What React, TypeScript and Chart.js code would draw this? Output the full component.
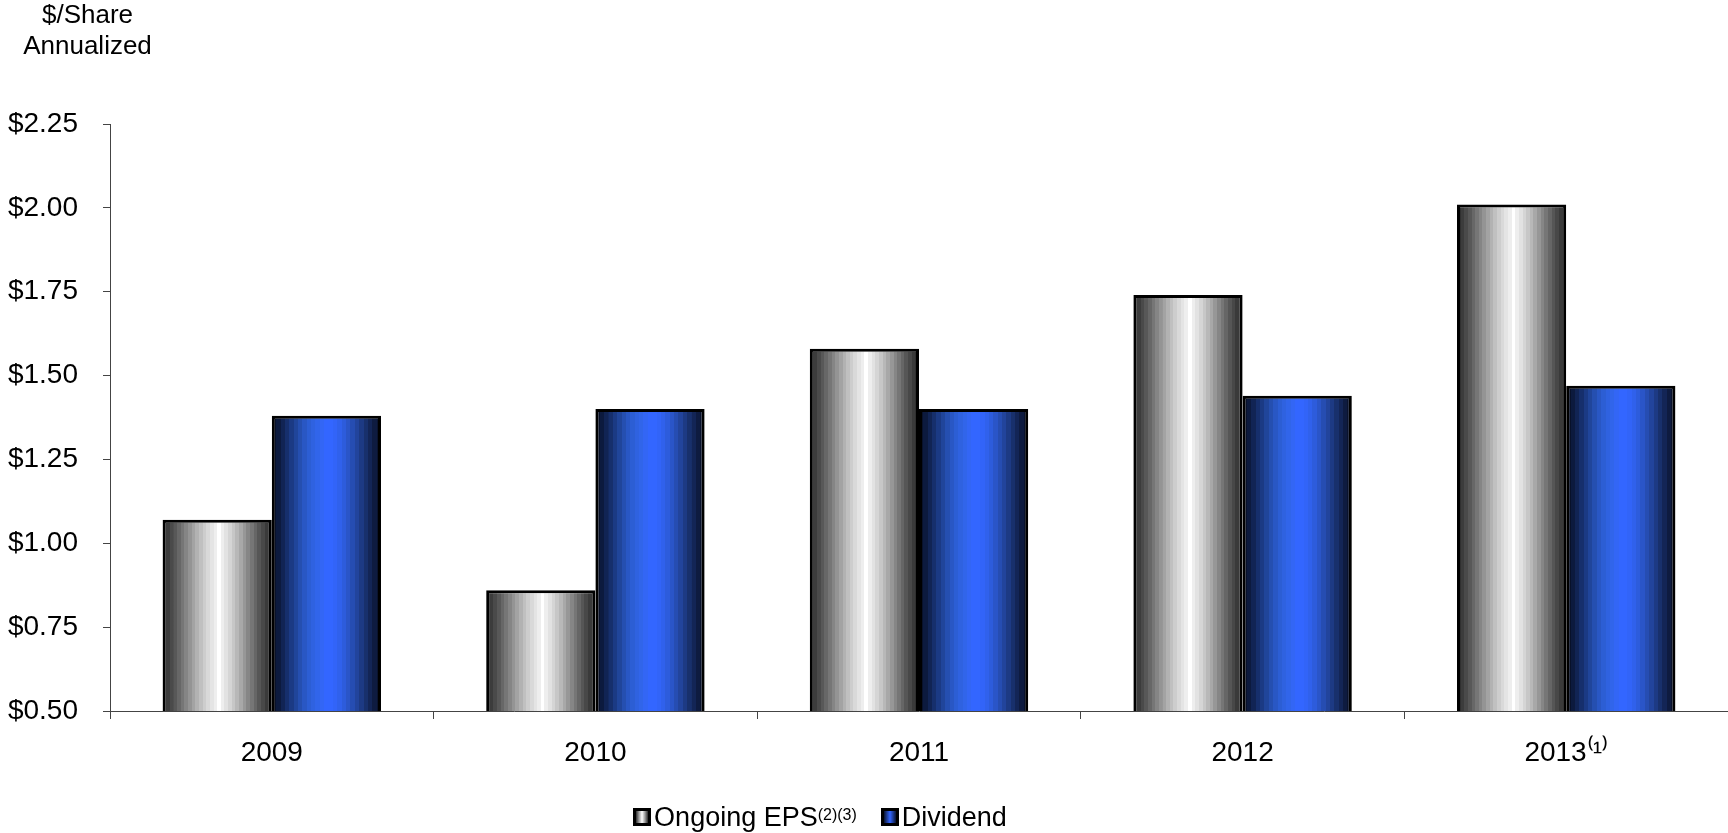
import React, { useEffect, useRef } from "react";
import { Chart, registerables } from "chart.js";

Chart.register(...registerables);

const categories = ["2009", "2010", "2011", "2012", "2013⁽¹⁾"];
const epsValues = [1.07, 0.86, 1.58, 1.74, 2.01];
const dividendValues = [1.38, 1.4, 1.4, 1.44, 1.47];
const yMin = 0.5;
const yMax = 2.25;
const yStep = 0.25;

const CATEGORY_PCT = 0.675;
const FONT = "'Liberation Sans', Arial, Helvetica, sans-serif";

// Banded (stepped) shading, left to right, like the original's rendering
const epsBands = [
  "#303030", "#3c3c3c", "#4a4a4a", "#585858", "#676767", "#767676", "#858585",
  "#949494", "#a3a3a3", "#b2b2b2", "#c0c0c0", "#cdcdcd", "#d9d9d9", "#e4e4e4",
  "#eeeeee", "#ffffff", "#eeeeee", "#e2e2e2", "#d5d5d5", "#c7c7c7", "#b8b8b8",
  "#a8a8a8", "#979797", "#868686", "#767676", "#666666", "#565656", "#484848",
  "#3a3a3a", "#303030",
];

const divBands = [
  "#08112a", "#0c1a3e", "#112454", "#162f6c", "#1b3a84", "#20459a", "#254fb0",
  "#2957c4", "#2c5ed4", "#2f62e0", "#3165ea", "#3366f5", "#3366ff", "#3366ff",
  "#3264f8", "#3061ec", "#2d5cdc", "#2a55c8", "#264db2", "#22449c", "#1d3a84",
  "#18306c", "#132556", "#0e1b40", "#0a132e",
];

function addBands(g: CanvasGradient, bands: string[]) {
  const n = bands.length;
  bands.forEach((c, i) => {
    g.addColorStop(i / n, c);
    g.addColorStop(Math.min(1, (i + 1) / n - 0.0001), c);
  });
}

function barGradient(ctx: any, bands: string[], fallback: string) {
  const chart = ctx.chart;
  const xs = chart.scales ? chart.scales.x : undefined;
  if (ctx.type !== "data" || !xs || !xs.width) return fallback;
  const center = xs.getPixelForValue(ctx.dataIndex);
  const cat = xs.width / categories.length;
  const bw = (cat * CATEGORY_PCT) / 2;
  const left = ctx.datasetIndex === 0 ? center - bw : center;
  const g = chart.ctx.createLinearGradient(left, 0, left + bw, 0);
  addBands(g, bands);
  return g;
}

export default function App() {
  const canvasRef = useRef<HTMLCanvasElement | null>(null);

  useEffect(() => {
    const canvas = canvasRef.current;
    if (!canvas) return;
    const chart = new Chart(canvas, {
      type: "bar",
      data: {
        labels: categories,
        datasets: [
          {
            label: "Ongoing EPS",
            data: epsValues,
            backgroundColor: (c: any) => barGradient(c, epsBands, "#cccccc"),
            borderColor: "#000000",
            borderWidth: 3,
            borderSkipped: false,
            categoryPercentage: CATEGORY_PCT,
            barPercentage: 1,
          },
          {
            label: "Dividend",
            data: dividendValues,
            backgroundColor: (c: any) => barGradient(c, divBands, "#3366ff"),
            borderColor: "#000000",
            borderWidth: 3,
            borderSkipped: false,
            categoryPercentage: CATEGORY_PCT,
            barPercentage: 1,
          },
        ],
      },
      options: {
        responsive: false,
        animation: false,
        layout: { padding: { top: 124, bottom: 62, left: 0, right: 0 } },
        plugins: {
          legend: { display: false },
          tooltip: { enabled: false },
          title: { display: false },
        },
        scales: {
          x: {
            offset: true,
            grid: {
              offset: true,
              drawOnChartArea: false,
              drawTicks: true,
              tickLength: 8,
              color: "#444444",
            },
            border: { display: true, color: "#444444", width: 1 },
            ticks: {
              color: "#000000",
              padding: 17,
              font: { family: FONT, size: 28 },
              maxRotation: 0,
            },
            afterFit: (s: any) => {
              s.height = 60;
            },
          },
          y: {
            min: yMin,
            max: yMax,
            grid: {
              drawOnChartArea: false,
              drawTicks: true,
              tickLength: 7,
              color: "#444444",
            },
            border: { display: true, color: "#444444", width: 1 },
            ticks: {
              stepSize: yStep,
              color: "#000000",
              padding: 25,
              font: { family: FONT, size: 28 },
              callback: (v: any) => "$" + Number(v).toFixed(2),
            },
            afterFit: (s: any) => {
              s.width = 110;
            },
          },
        },
      },
    });
    return () => chart.destroy();
  }, []);

  const boxBase: React.CSSProperties = {
    display: "inline-block",
    width: 12,
    height: 12,
    border: "3px solid #000",
    marginRight: 3,
    boxSizing: "content-box",
  };

  return (
    <div
      style={{
        position: "fixed",
        left: 0,
        top: 0,
        width: 1728,
        height: 833,
        background: "#ffffff",
        fontFamily: FONT,
        color: "#000",
      }}
    >
      <canvas ref={canvasRef} width={1728} height={833} style={{ display: "block" }} />
      <div
        style={{
          position: "absolute",
          left: 0,
          top: -1,
          width: 175,
          textAlign: "center",
          fontSize: 26,
          lineHeight: "31px",
        }}
      >
        $/Share
        <br />
        Annualized
      </div>
      <div
        style={{
          position: "absolute",
          left: 0,
          top: 801,
          width: 1640,
          display: "flex",
          justifyContent: "center",
          alignItems: "center",
          fontSize: 27,
          lineHeight: "32px",
          whiteSpace: "nowrap",
        }}
      >
        <span
          style={{
            ...boxBase,
            background:
              "linear-gradient(90deg, #2c2c2c 0%, #9a9a9a 25%, #ffffff 50%, #9a9a9a 75%, #2c2c2c 100%)",
          }}
        />
        <span>
          Ongoing EPS
          <sup style={{ fontSize: 16, verticalAlign: "top", position: "relative", top: -2 }}>(2)(3)</sup>
        </span>
        <span style={{ display: "inline-block", width: 24 }} />
        <span
          style={{
            ...boxBase,
            background: "linear-gradient(90deg, #0a1430 0%, #3366ff 50%, #0a1430 100%)",
          }}
        />
        <span>Dividend</span>
      </div>
    </div>
  );
}
